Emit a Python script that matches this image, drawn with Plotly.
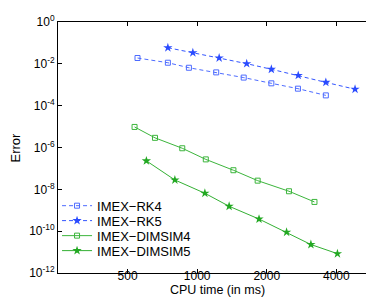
import plotly.graph_objects as go

# Data
rk4_time = [552, 747, 921, 1209, 1590, 2094, 2729, 3603]
rk4_err = [1.9e-2, 1.13e-2, 6.5e-3, 3.9e-3, 2.2e-3, 1.17e-3, 6.5e-4, 3.1e-4]

rk5_time = [747, 958, 1245, 1638, 2094, 2737, 3603, 4820]
rk5_err = [5.9e-2, 3.4e-2, 1.9e-2, 1.02e-2, 5.5e-3, 2.8e-3, 1.3e-3, 6.1e-4]

dim4_time = [536, 657, 862, 1090, 1435, 1827, 2496, 3217]
dim4_err = [9.6e-6, 2.9e-6, 9.2e-7, 2.7e-7, 8.2e-8, 2.6e-8, 8.1e-9, 2.5e-9]

dim5_time = [603, 801, 1080, 1375, 1852, 2437, 3105, 4044]
dim5_err = [2.3e-7, 2.8e-8, 6.5e-9, 1.55e-9, 3.8e-10, 8.9e-11, 2.3e-11, 8.4e-12]

x_tickvals = [500, 1000, 2000, 4000]
x_ticktext = ["500", "1000", "2000", "4000"]
y_tickvals = [1, 1e-2, 1e-4, 1e-6, 1e-8, 1e-10, 1e-12]
y_ticktext = ["10<sup>0</sup>", "10<sup>-2</sup>", "10<sup>-4</sup>", "10<sup>-6</sup>",
              "10<sup>-8</sup>", "10<sup>-10</sup>", "10<sup>-12</sup>"]

FONT = "Liberation Sans, Arial, sans-serif"

fig = go.Figure()
fig.add_trace(go.Scatter(x=rk4_time, y=rk4_err, name="IMEX\u2212RK4", mode="lines+markers",
                         legend="legend",
                         line=dict(color="#4d6bff", width=1, dash="4px,3px"),
                         marker=dict(symbol="square-open", size=5, color="#4d6bff", line=dict(width=1))))
fig.add_trace(go.Scatter(x=rk5_time, y=rk5_err, name="IMEX\u2212RK5", mode="lines+markers",
                         legend="legend2",
                         line=dict(color="#3355ff", width=1, dash="4px,3px"),
                         marker=dict(symbol="star", size=7, color="#2a4bff")))
fig.add_trace(go.Scatter(x=dim4_time, y=dim4_err, name="IMEX\u2212DIMSIM4", mode="lines+markers",
                         legend="legend3",
                         line=dict(color="#3cb53c", width=1),
                         marker=dict(symbol="square-open", size=5, color="#3cb53c", line=dict(width=1))))
fig.add_trace(go.Scatter(x=dim5_time, y=dim5_err, name="IMEX\u2212DIMSIM5", mode="lines+markers",
                         legend="legend4",
                         line=dict(color="#33b033", width=1),
                         marker=dict(symbol="star", size=7, color="#22a822")))

leg_common = dict(x=-0.003, xanchor="left", yanchor="middle",
                  bgcolor="rgba(255,255,255,0)", borderwidth=0,
                  font=dict(size=13), itemwidth=30)

fig.update_layout(
    width=374, height=297,
    margin=dict(l=50, r=5, t=14, b=32),
    paper_bgcolor="white", plot_bgcolor="white",
    font=dict(family=FONT, size=12, color="black"),
    showlegend=True,
    legend=dict(y=0.268, **leg_common),
    legend2=dict(y=0.2085, **leg_common),
    legend3=dict(y=0.1487, **leg_common),
    legend4=dict(y=0.089, **leg_common),
    annotations=[dict(text="Error", textangle=-90, xref="paper", yref="paper",
                      x=-0.1317, y=0.5, xanchor="center", yanchor="middle",
                      showarrow=False, font=dict(size=13))],
)
fig.update_xaxes(type="log", range=[2.398, 3.778],
                 tickvals=x_tickvals, ticktext=x_ticktext,
                 ticks="inside", ticklen=4, tickcolor="black",
                 ticklabelstandoff=-8, automargin=False,
                 tickfont=dict(size=12),
                 showline=True, linecolor="black", linewidth=1, mirror="ticks",
                 showgrid=False, zeroline=False,
                 title=dict(text="CPU time (in ms)", standoff=0, font=dict(size=12.5)))
fig.update_yaxes(type="log", range=[-12, 0],
                 tickvals=y_tickvals, ticktext=y_ticktext,
                 ticks="inside", ticklen=4, tickcolor="black",
                 automargin=False,
                 tickfont=dict(size=12),
                 showline=True, linecolor="black", linewidth=1, mirror="ticks",
                 showgrid=False, zeroline=False)

fig.write_html("out.html")
